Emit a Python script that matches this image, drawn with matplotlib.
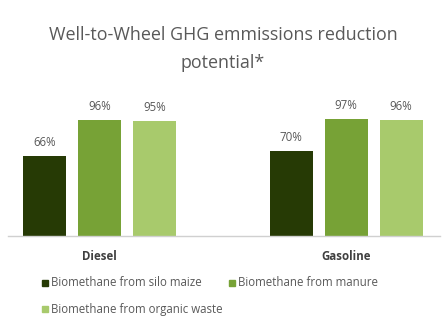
import matplotlib
matplotlib.use("Agg")
import matplotlib.pyplot as plt
from matplotlib.patches import Rectangle
import numpy as np

plt.rcParams['font.family'] = ['Open Sans', 'DejaVu Sans']

categories = ["Diesel", "Gasoline"]
series_names = ["Biomethane from silo maize", "Biomethane from manure", "Biomethane from organic waste"]
values = [
    [66, 70],
    [96, 97],
    [95, 96],
]
colors = ["#263a05", "#77a236", "#a8ca6c"]
title = "Well-to-Wheel GHG emmissions reduction\npotential*"

W, H = 442, 326
fig = plt.figure(figsize=(W / 100, H / 100), dpi=100)
left_px, right_px, top_px, bot_px = 8, 440, 110, 236
ax = fig.add_axes([left_px / W, 1 - bot_px / H, (right_px - left_px) / W, (bot_px - top_px) / H])

x = np.arange(len(categories))
offsets = [-0.2227, 0.0, 0.2227]
width = 0.174
for i, (name, vals) in enumerate(zip(series_names, values)):
    bars = ax.bar(x + offsets[i], vals, width, color=colors[i], label=name, zorder=2)
    for b, v in zip(bars, vals):
        ax.annotate(f"{v}%", (b.get_x() + b.get_width() / 2, v), xytext=(0, 5),
                    textcoords="offset points", ha="center", va="bottom",
                    fontsize=8.3, color="#595959")

ax.set_xlim(-0.37, 1.38)
ax.set_ylim(0, 104.3)
for s in ["top", "right", "left"]:
    ax.spines[s].set_visible(False)
ax.spines["bottom"].set_color("#d0d0d0")
ax.spines["bottom"].set_linewidth(1)
ax.set_yticks([])
ax.set_xticks(x)
ax.set_xticklabels(categories, fontsize=8.3, fontweight="bold", color="#404040")
ax.tick_params(axis="x", length=0, pad=10)

fig.text(223 / W, 1 - 49 / H, title, ha="center", va="center", fontsize=12.9,
         color="#595959", linespacing=1.75)

# manual legend, row-wise
leg_pos = [(42, 283), (229, 283), (42, 309)]
sq = 6
for (px, py), name, c in zip(leg_pos, series_names, colors):
    fig.add_artist(Rectangle((px / W, 1 - (py + sq / 2) / H), sq / W, sq / H,
                             transform=fig.transFigure, color=c))
    fig.text((px + sq + 3) / W, 1 - py / H, name, ha="left", va="center",
             fontsize=8.3, color="#595959")

fig.savefig("out.png", dpi=100)
